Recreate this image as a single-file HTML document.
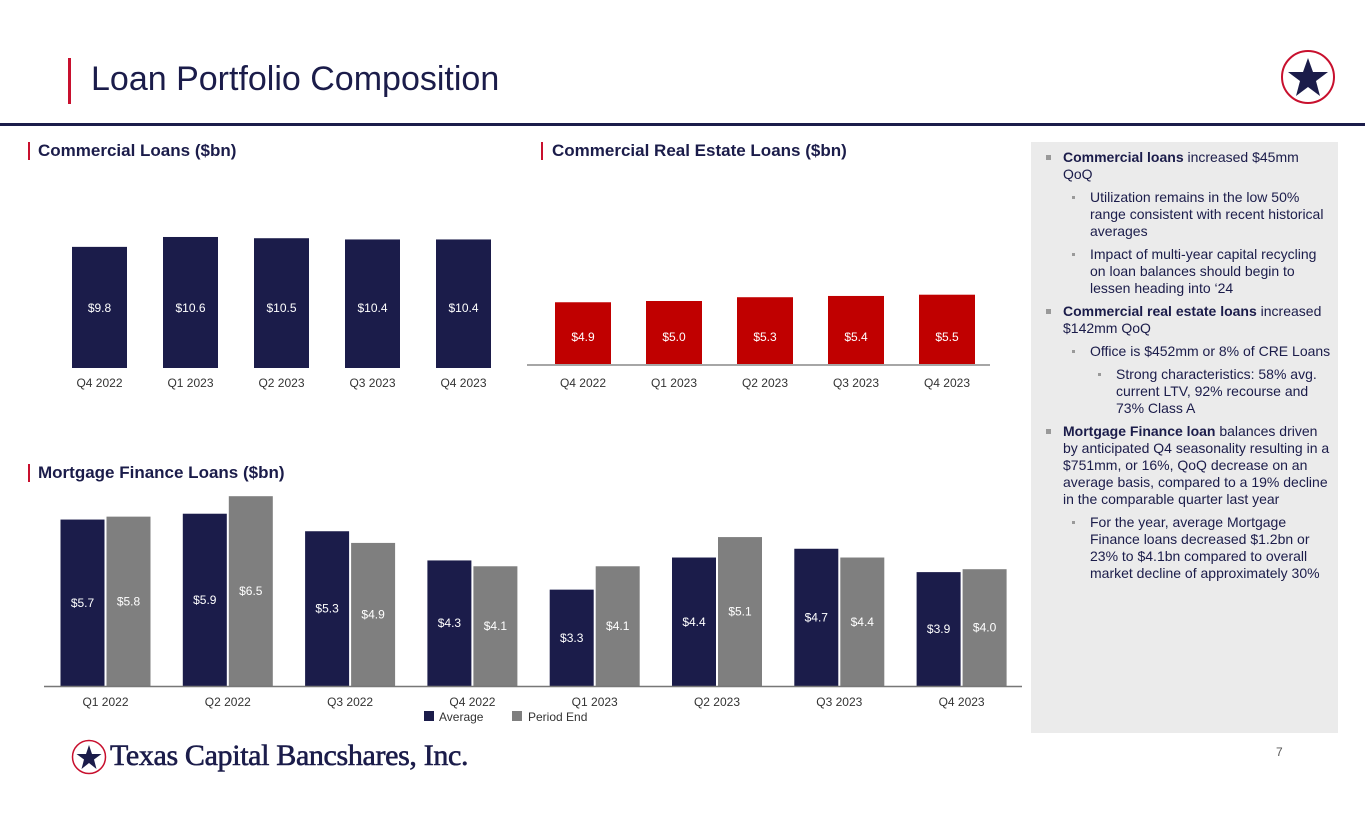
<!DOCTYPE html>
<html><head><meta charset="utf-8"><style>
*{margin:0;padding:0;box-sizing:border-box}
body{width:1365px;height:829px;background:#fff;position:relative;overflow:hidden;font-family:"Liberation Sans",Arial,sans-serif;color:#1b1c4a}
.abs{position:absolute}
.sub{font-size:17px;font-weight:bold;color:#1b1c4a}
.redbar{position:absolute;background:#c8102e;width:2px}
#panel{left:1031px;top:142px;width:307px;height:591px;background:#ebebeb;padding:7px 7px 0 10px;font-size:14px;line-height:17px;color:#1b1c4a}
#panel p{position:relative;margin-top:6px}
#panel p:first-child{margin-top:0}
#panel p:before{content:"";position:absolute;width:5px;height:5px;background:#999;top:6px}
.l1{padding-left:22px}.l1:before{left:5px}
.l2{padding-left:49px}.l2:before{left:31px;width:3px!important;height:3px!important;top:7px!important}
.l3{padding-left:75px}.l3:before{left:57px;width:3px!important;height:3px!important;top:7px!important}
svg text{font-family:"Liberation Sans",Arial,sans-serif}
</style></head><body>
<div class="redbar" style="left:68px;top:58px;width:3px;height:46px"></div>
<div class="abs" style="left:91px;top:60px;font-size:34px;color:#1b1c4a">Loan Portfolio Composition</div>
<svg class="abs" style="left:1280px;top:49px" width="56" height="56"><circle cx="28" cy="28" r="26" fill="#fff" stroke="#c8102e" stroke-width="2"/><polygon points="28,9 33,23 48,23 36,32 40,47 28,38 16,47 20,32 8,23 23,23" fill="#1b1c4a"/></svg>
<div class="abs" style="left:0;top:123px;width:1365px;height:3px;background:#1b1c4a"></div>

<div class="redbar" style="left:28px;top:142px;height:18px"></div>
<div class="abs sub" style="left:38px;top:141px">Commercial Loans ($bn)</div>
<div class="redbar" style="left:541px;top:142px;height:18px"></div>
<div class="abs sub" style="left:552px;top:141px">Commercial Real Estate Loans ($bn)</div>
<div class="redbar" style="left:28px;top:464px;height:18px"></div>
<div class="abs sub" style="left:38px;top:463px">Mortgage Finance Loans ($bn)</div>

<svg id="chart" class="abs" style="left:0;top:0" width="1030" height="740"></svg>

<div id="panel" class="abs">
<p class="l1"><b>Commercial loans</b> increased $45mm QoQ</p>
<p class="l2">Utilization remains in the low 50% range consistent with recent historical averages</p>
<p class="l2">Impact of multi-year capital recycling on loan balances should begin to lessen heading into ‘24</p>
<p class="l1"><b>Commercial real estate loans</b> increased $142mm QoQ</p>
<p class="l2" style="white-space:nowrap">Office is $452mm or 8% of CRE Loans</p>
<p class="l3">Strong characteristics: 58% avg. current LTV, 92% recourse and 73% Class A</p>
<p class="l1"><b>Mortgage Finance loan</b> balances driven by anticipated Q4 seasonality resulting in a $751mm, or 16%, QoQ decrease on an average basis, compared to a 19% decline in the comparable quarter last year</p>
<p class="l2">For the year, average Mortgage Finance loans decreased $1.2bn or 23% to $4.1bn compared to overall market decline of approximately 30%</p>
</div>

<svg class="abs" style="left:71px;top:739px" width="36" height="36"><circle cx="18" cy="18" r="16.5" fill="#fff" stroke="#c8102e" stroke-width="1.5"/><polygon points="18,6 21,15 30.5,15 23,20.5 25.5,30 18,24 10.5,30 13,20.5 5.5,15 15,15" fill="#1b1c4a"/></svg>
<div class="abs" style="left:110px;top:739px;font-family:'Liberation Serif',serif;font-size:30px;color:#1b1c4a;-webkit-text-stroke:0.6px #1b1c4a;letter-spacing:-0.35px">Texas Capital Bancshares, Inc.</div>
<div class="abs" style="left:1276px;top:745px;font-size:12px;color:#555">7</div>

<script>
const comCats=["Q4 2022","Q1 2023","Q2 2023","Q3 2023","Q4 2023"];
const comVals=[9.8,10.6,10.5,10.4,10.4];
const comLabels=["$9.8","$10.6","$10.5","$10.4","$10.4"];
const creCats=["Q4 2022","Q1 2023","Q2 2023","Q3 2023","Q4 2023"];
const creVals=[4.9,5.0,5.3,5.4,5.5];
const creLabels=["$4.9","$5.0","$5.3","$5.4","$5.5"];
const mfCats=["Q1 2022","Q2 2022","Q3 2022","Q4 2022","Q1 2023","Q2 2023","Q3 2023","Q4 2023"];
const mfAvg=[5.7,5.9,5.3,4.3,3.3,4.4,4.7,3.9];
const mfEnd=[5.8,6.5,4.9,4.1,4.1,5.1,4.4,4.0];
const mfAvgLabels=["$5.7","$5.9","$5.3","$4.3","$3.3","$4.4","$4.7","$3.9"];
const mfEndLabels=["$5.8","$6.5","$4.9","$4.1","$4.1","$5.1","$4.4","$4.0"];

const svg=document.getElementById('chart');
const NS='http://www.w3.org/2000/svg';
function mk(tag,attrs,name,txt){const e=document.createElementNS(NS,tag);for(const k in attrs)e.setAttribute(k,attrs[k]);


if(txt!==undefined)e.textContent=txt;svg.appendChild(e);return e;}

function simpleChart(cats,vals,labels,x0,step,bw,base,scale,color,lblY,prefix,xlY){
  cats.forEach((c,i)=>{
    const x=x0+i*step, h=vals[i]*scale;
    mk('rect',{x:x,y:base-h,width:bw,height:h,fill:color},prefix+'-bar-'+i);
    mk('text',{x:x+bw/2,y:lblY,'text-anchor':'middle','font-size':12,fill:'#fff'},prefix+'-value-'+i,labels[i]);
    mk('text',{x:x+bw/2,y:xlY,'text-anchor':'middle','font-size':12,fill:'#333'},prefix+'-xlabel-'+i,c);
  });
}
simpleChart(comCats,comVals,comLabels,72,91,55,368,12.36,'#1b1c4a',312,'commercial',387);
mk('line',{x1:527,x2:990,y1:365,y2:365,stroke:'#888','stroke-width':1.5},'cre-axis');
simpleChart(creCats,creVals,creLabels,555,91,56,364,12.6,'#c00000',341,'cre',387);

const mBase=686,mScale=29.2,mStep=122.3,mX0=105.5,mBw=44;
mfCats.forEach((c,i)=>{
  const cx=mX0+i*mStep;
  const ha=mfAvg[i]*mScale, he=mfEnd[i]*mScale;
  mk('rect',{x:cx-mBw-1,y:mBase-ha,width:mBw,height:ha,fill:'#1b1c4a'},'mortgage-avg-bar-'+i);
  mk('rect',{x:cx+1,y:mBase-he,width:mBw,height:he,fill:'#7f7f7f'},'mortgage-end-bar-'+i);
  mk('text',{x:cx-mBw/2-1,y:mBase-ha/2+4,'text-anchor':'middle','font-size':12,fill:'#fff'},'mortgage-avg-value-'+i,mfAvgLabels[i]);
  mk('text',{x:cx+mBw/2+1,y:mBase-he/2+4,'text-anchor':'middle','font-size':12,fill:'#fff'},'mortgage-end-value-'+i,mfEndLabels[i]);
  mk('text',{x:cx,y:mBase+20,'text-anchor':'middle','font-size':12,fill:'#333'},'mortgage-xlabel-'+i,c);
});
mk('line',{x1:44,x2:1022,y1:mBase+0.5,y2:mBase+0.5,stroke:'#777','stroke-width':1.5},'mortgage-axis');
mk('rect',{x:424,y:711,width:10,height:10,fill:'#1b1c4a'},'legend-average-swatch');
mk('text',{x:439,y:721,'font-size':12,fill:'#333'},'legend-average-label','Average');
mk('rect',{x:512,y:711,width:10,height:10,fill:'#7f7f7f'},'legend-period-end-swatch');
mk('text',{x:528,y:721,'font-size':12,fill:'#333'},'legend-period-end-label','Period End');
</script>
</body></html>
